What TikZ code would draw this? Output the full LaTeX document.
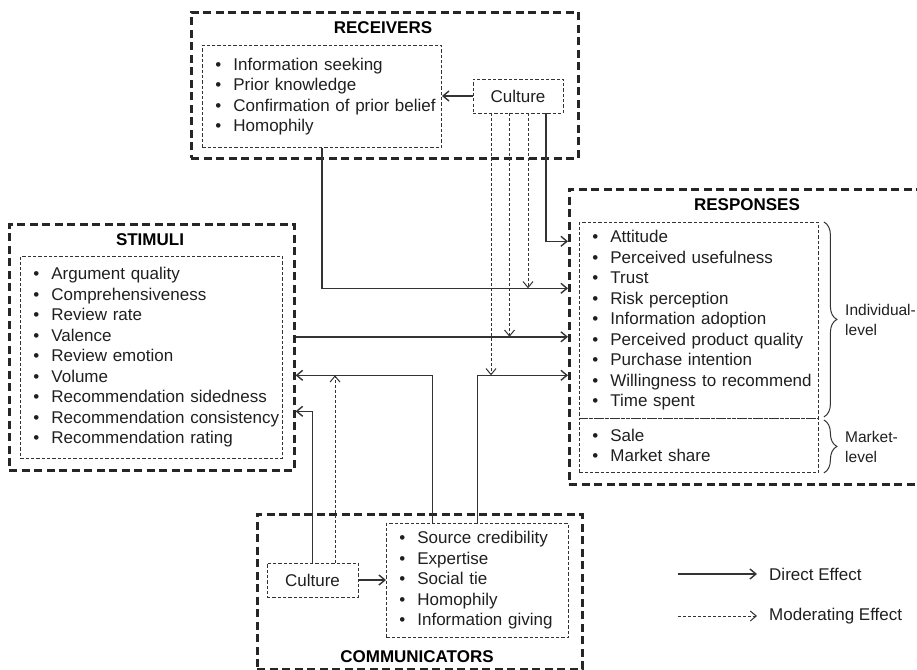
\documentclass[tikz,border=0pt]{standalone}
\usepackage{fontspec}
\setmainfont{Liberation Sans}
\usetikzlibrary{positioning,calc,arrows.meta,decorations.pathreplacing}
\newcommand{\itm}{\hspace*{13pt}\textbullet\hspace{12pt}}

\begin{document}
\begin{tikzpicture}[x=1pt,y=-1pt,
>={Straight Barb[length=6pt,width=10pt]},
every node/.style={font=\fontsize{17}{20.5}\selectfont, text=black!88},
groupbox/.style={draw=black!85, line width=2.6pt, dash pattern=on 8pt off 4.5pt,
  anchor=north west, inner sep=0pt},
listbox/.style={draw=black!80, line width=0.9pt, dash pattern=on 3.3pt off 2pt,
  anchor=north west, inner xsep=0pt, inner ysep=0pt, align=left},
culbox/.style={draw=black!80, line width=0.9pt, dash pattern=on 3.3pt off 2pt,
  minimum width=90pt, minimum height=34pt},
title/.style={font=\fontsize{17}{20.5}\selectfont\bfseries, text=black},
sidelab/.style={anchor=west, align=left, inner xsep=2pt, font=\fontsize{15.5}{19.5}\selectfont},
direct/.style={->, draw=black!80, line width=1.4pt},
moder/.style={->, draw=black!80, line width=1pt, dash pattern=on 3pt off 2pt},
bracket/.style={decorate, decoration={brace, amplitude=13pt}, draw=black!80, line width=1pt}]
\useasboundingbox (0,0) rectangle (917,669);

% outer groups
\node[groupbox, minimum width=387pt, minimum height=146pt] (rcv) at (190,11) {};
\node[groupbox, minimum width=380pt, minimum height=295pt] (resp) at (568,188) {};
\node[groupbox, minimum width=285pt, minimum height=246pt] (stim) at (8,223) {};
\node[groupbox, minimum width=325pt, minimum height=155pt] (comm) at (256,513) {};

% titles
\node[title] (rcvtitle) at (383,28) {RECEIVERS};
\node[title] (resptitle) at (747,205) {RESPONSES};
\node[title] (stimtitle) at (150,240) {STIMULI};
\node[title] (commtitle) at (417,657) {COMMUNICATORS};

% receivers
\node[listbox, text width=239pt, minimum height=102pt] (rcvlist) at (202,45)
  {\itm Information seeking\\ \itm Prior knowledge\\ \itm Confirmation of prior belief\\ \itm Homophily};
\node[culbox] (rcvcult) at (518,96) {Culture};

% stimuli
\node[listbox, text width=262pt, minimum height=202pt] (stimlist) at (20,256)
  {\itm Argument quality\\ \itm Comprehensiveness\\ \itm Review rate\\ \itm Valence\\
   \itm Review emotion\\ \itm Volume\\ \itm Recommendation sidedness\\
   \itm Recommendation consistency\\ \itm Recommendation rating};

% responses
\node[listbox, text width=239pt, minimum height=196pt] (resptop) at (579,222)
  {\itm Attitude\\ \itm Perceived usefulness\\ \itm Trust\\ \itm Risk perception\\
   \itm Information adoption\\ \itm Perceived product quality\\ \itm Purchase intention\\
   \itm Willingness to recommend\\ \itm Time spent};
\node[listbox, text width=239pt, minimum height=54pt] (resplow) at (579,418)
  {\itm Sale\\ \itm Market share};
\draw[bracket] ($(resptop.north east)+(5,0)$) -- ($(resptop.south east)+(5,-2)$);
\draw[bracket] ($(resplow.north east)+(5,2)$) -- ($(resplow.south east)+(5,0)$);
\node[sidelab] (indlab) at (843,320) {Individual-\\level};
\node[sidelab] (mktlab) at (843,447) {Market-\\level};

% communicators
\node[listbox, text width=182pt, minimum height=114pt] (commlist) at (386,523)
  {\itm Source credibility\\ \itm Expertise\\ \itm Social tie\\ \itm Homophily\\ \itm Information giving};
\node[culbox, minimum width=91pt] (commcult) at (312.5,580) {Culture};

% direct effects
\coordinate (yA) at ($(resp.west)+(0,-48.5)$);
\coordinate (yB) at ($(resp.west)+(0,-95.5)$);
\coordinate (yD) at ($(resp.west)+(0,38.5)$);
\draw[direct] (rcvcult.west) -- (rcvlist.east |- rcvcult.west);
\draw[direct] (commcult.east) -- (commlist.west |- commcult.east);
\draw[direct] (rcvlist.south) |- (yA);
\draw[direct] ($(rcvcult.south)+(28,0)$) |- (yB);
\draw[direct] (stim.east |- resp.west) -- (resp.west);
\draw[direct] (commlist.north) |- (yD);
\draw[direct] ($(commlist.north)+(-45,0)$) |- (stim.east |- yD);
\draw[direct] (commcult.north) |- ($(stim.east)+(0,64)$);

% moderating effects
\coordinate (m1) at ($(rcvcult.south)+(10,0)$);
\coordinate (m2) at ($(rcvcult.south)+(-8.5,0)$);
\coordinate (m3) at ($(rcvcult.south)+(-27,0)$);
\coordinate (m4) at ($(commcult.north)+(22.5,0)$);
\draw[moder] (m1) -- (m1 |- yA);
\draw[moder] (m2) -- (m2 |- resp.west);
\draw[moder] (m3) -- (m3 |- yD);
\draw[moder] (m4) -- (m4 |- yD);

% legend
\coordinate (lgd1) at (678,574);
\coordinate (lgd2) at (678,616);
\node[anchor=west, inner xsep=12pt] (lgdir) at (757,574) {Direct Effect};
\node[anchor=west, inner xsep=12pt] (lgmod) at (757,616) {Moderating Effect};
\draw[direct] (lgd1) -- (lgdir.west);
\draw[moder] (lgd2) -- (lgmod.west);
\end{tikzpicture}
\end{document}
